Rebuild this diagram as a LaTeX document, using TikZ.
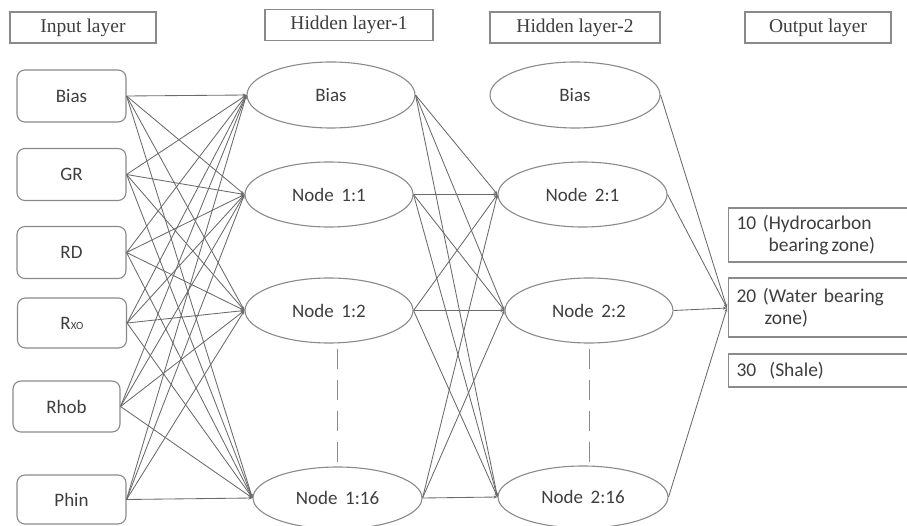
\documentclass[tikz,border=0pt]{standalone}
\usepackage{fontspec}
\setmainfont{Liberation Serif}
\newfontfamily\cfont{Carlito}
\usetikzlibrary{shapes.geometric,arrows.meta}
\definecolor{txt}{HTML}{3E3E3E}
\definecolor{edgec}{HTML}{8A8A8A}
\definecolor{wirec}{HTML}{6A6A6A}
\begin{document}
\begin{tikzpicture}[x=1pt,y=-1pt,
 title/.style={draw=edgec, line width=1.2pt, minimum height=31pt, inner sep=0pt, font=\fontsize{19.5}{21}\selectfont, text=txt},
 inbox/.style={draw=edgec, line width=1.1pt, rounded corners=8pt, minimum width=109pt, minimum height=52pt, inner sep=0pt, font=\cfont\fontsize{19}{21}\selectfont, text=txt},
 neuron/.style={ellipse, draw=edgec, line width=1.1pt, minimum width=168pt, minimum height=66pt, inner sep=0pt, font=\cfont\fontsize{19}{21}\selectfont, text=txt},
 outbox/.style={draw=edgec, line width=1.2pt, anchor=west, inner xsep=8pt, inner ysep=0pt, text width=164pt, align=left, font=\cfont\fontsize{19.5}{22}\selectfont, text=txt},
 wire/.style={draw=wirec, line width=0.85pt, -{Stealth[length=4pt,width=3pt]}},
 dashline/.style={draw=edgec, line width=1pt, dash pattern=on 20pt off 11pt},
]
\useasboundingbox (0,0) rectangle (907,526);
% titles
\node[title, minimum width=146pt] (t1) at (83,27.5) {Input layer};
\node[title, minimum width=168pt] (t2) at (349,25) {Hidden layer-1};
\node[title, minimum width=170pt] (t3) at (575,27.5) {Hidden layer-2};
\node[title, minimum width=146pt] (t4) at (818,27.5) {Output layer};
% inputs
\node[inbox] (i1) at (71.5,96) {Bias};
\node[inbox] (i2) at (71.5,174.5) {GR};
\node[inbox] (i3) at (71.5,252.5) {RD};
\node[inbox, minimum height=50pt] (i4) at (72,323) {R{\fontsize{11}{11}\selectfont XO}};
\node[inbox, minimum width=107pt, minimum height=51pt] (i5) at (66.5,406.5) {Rhob};
\node[inbox, minimum height=49pt] (i6) at (71.5,499.5) {Phin};
% hidden 1
\node[neuron] (h10) at (331,95) {Bias};
\node[neuron, minimum height=65pt] (h11) at (329,194.5) {Node\hspace{0.4em}1:1};
\node[neuron, minimum height=65pt] (h12) at (329,310.5) {Node\hspace{0.4em}1:2};
\node[neuron, minimum width=169pt, minimum height=62pt] (h116) at (337.5,498) {Node\hspace{0.4em}1:16};
% hidden 2
\node[neuron, minimum width=170pt] (h20) at (575,95) {Bias};
\node[neuron, minimum width=169pt, minimum height=65pt] (h21) at (582.5,194.5) {Node\hspace{0.4em}2:1};
\node[neuron, minimum height=65pt] (h22) at (589,310.5) {Node\hspace{0.4em}2:2};
\node[neuron, minimum width=170pt, minimum height=62pt] (h216) at (583,497) {Node\hspace{0.4em}2:16};
% outputs
\node[outbox, minimum height=54pt] (o1) at (728,235) {10 (Hydrocarbon\\\hspace*{32pt}bearing\hspace{0.15em}zone)};
\node[outbox, minimum height=59pt] (o2) at (728,307.5) {20 (Water bearing\\\hspace*{28pt}zone)};
\node[outbox, minimum height=33pt] (o3) at (728,370.5) {30\ \ (Shale)};
\coordinate (out) at (727,308);
% dashed continuation lines
\path ([yshift=-5pt]h12.south) coordinate (d1);
\path ([yshift=-5pt]h22.south) coordinate (d2);
\draw[dashline] (h116.north |- d1) -- (h116.north);
\draw[dashline] (d2) -- (d2 |- h216.north);
% input -> hidden 1
\foreach \a in {i1,i2,i3,i4,i5,i6}{
  \foreach \b in {h10,h11,h12,h116}{
    \draw[wire] (\a.east) -- (\b.west);
  }
}
% hidden 1 -> hidden 2
\foreach \a in {h10,h11,h12,h116}{
  \foreach \b in {h21,h22,h216}{
    \draw[wire] (\a.east) -- (\b.west);
  }
}
% hidden 2 -> output
\foreach \a in {h20,h21,h22,h216}{
  \draw[wire] (\a.east) -- (out);
}
\end{tikzpicture}
\end{document}
